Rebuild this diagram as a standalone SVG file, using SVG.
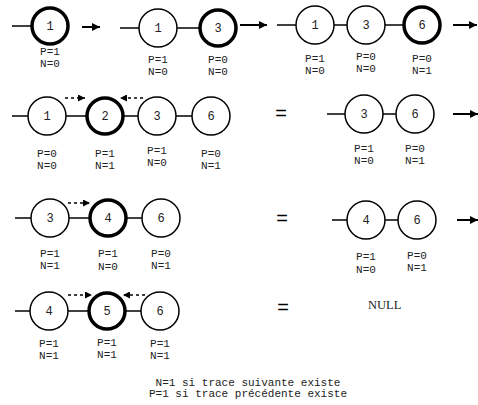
<svg xmlns="http://www.w3.org/2000/svg" width="478" height="405" viewBox="0 0 478 405">
<style>
.n{fill:#fff;stroke:#000;stroke-width:1.5}
.b{fill:#fff;stroke:#000;stroke-width:3.5}
.t{font-family:"Liberation Mono",monospace;font-size:12px;fill:#222;text-anchor:middle}
.l{font-family:"Liberation Mono",monospace;font-size:11px;fill:#222;text-anchor:middle}
.e{font-family:"Liberation Sans",Arial,sans-serif;font-size:20px;fill:#000;text-anchor:middle}
.c{stroke:#000;stroke-width:1.5;fill:none}
.a{stroke:#000;stroke-width:2;fill:none}
.d{stroke:#000;stroke-width:1.5;fill:none;stroke-dasharray:3,3}
</style>
<defs>
<marker id="ah" viewBox="0 0 10 10" refX="10" refY="5" markerWidth="10" markerHeight="8" markerUnits="userSpaceOnUse" orient="auto"><path d="M0,0 L10,5 L0,10 z" fill="#000"/></marker>
<marker id="dh" viewBox="0 0 10 10" refX="10" refY="5" markerWidth="8" markerHeight="7" markerUnits="userSpaceOnUse" orient="auto"><path d="M0,0 L10,5 L0,10 z" fill="#000"/></marker>
</defs>
<g id="connectors">
<line class="c" x1="12" y1="26" x2="31" y2="26"/>
<line class="a" x1="82" y1="27" x2="100" y2="27" marker-end="url(#ah)"/>
<line class="c" x1="120" y1="28" x2="139" y2="28"/>
<line class="c" x1="177" y1="28" x2="199" y2="28"/>
<line class="a" x1="240" y1="25" x2="267" y2="25" marker-end="url(#ah)"/>
<line class="c" x1="277" y1="25" x2="296" y2="25"/>
<line class="c" x1="334" y1="25" x2="347" y2="25"/>
<line class="c" x1="385" y1="25" x2="403" y2="25"/>
<line class="a" x1="453" y1="25" x2="477" y2="25" marker-end="url(#ah)"/>
<line class="c" x1="12" y1="116" x2="28" y2="116"/>
<line class="c" x1="66" y1="116" x2="86" y2="116"/>
<line class="c" x1="124" y1="116" x2="138" y2="116"/>
<line class="c" x1="176" y1="116" x2="192" y2="116"/>
<line class="d" x1="65" y1="98" x2="85" y2="98" marker-end="url(#dh)"/>
<line class="d" x1="143" y1="98" x2="120" y2="98" marker-end="url(#dh)"/>
<line class="c" x1="327" y1="114" x2="345" y2="114"/>
<line class="c" x1="383" y1="114" x2="396" y2="114"/>
<line class="a" x1="453" y1="114" x2="478" y2="114" marker-end="url(#ah)"/>
<line class="c" x1="15" y1="218" x2="31" y2="218"/>
<line class="c" x1="69" y1="218" x2="89" y2="218"/>
<line class="c" x1="127" y1="218" x2="142" y2="218"/>
<line class="d" x1="68" y1="203" x2="90" y2="203" marker-end="url(#dh)"/>
<line class="c" x1="332" y1="220" x2="347" y2="220"/>
<line class="c" x1="385" y1="220" x2="398" y2="220"/>
<line class="a" x1="457" y1="220" x2="478" y2="220" marker-end="url(#ah)"/>
<line class="c" x1="15" y1="311" x2="30" y2="311"/>
<line class="c" x1="68" y1="311" x2="88" y2="311"/>
<line class="c" x1="126" y1="311" x2="141" y2="311"/>
<line class="d" x1="68" y1="295" x2="92" y2="295" marker-end="url(#dh)"/>
<line class="d" x1="145" y1="295" x2="123" y2="295" marker-end="url(#dh)"/>
</g>
<g id="r1n1"><circle class="b" cx="50" cy="26" r="18"/><text class="t" x="50" y="30">1</text><text class="l" x="50" y="55">P=1</text><text class="l" x="50" y="67">N=0</text></g>
<g id="r1g2n1"><circle class="n" cx="158" cy="28" r="19"/><text class="t" x="158" y="32">1</text><text class="l" x="158" y="63">P=1</text><text class="l" x="158" y="75">N=0</text></g>
<g id="r1g2n3"><circle class="b" cx="218" cy="28" r="18"/><text class="t" x="218" y="32">3</text><text class="l" x="218" y="63">P=0</text><text class="l" x="218" y="75">N=0</text></g>
<g id="r1g3n1"><circle class="n" cx="315" cy="25" r="19"/><text class="t" x="315" y="29">1</text><text class="l" x="315" y="62">P=1</text><text class="l" x="315" y="74">N=0</text></g>
<g id="r1g3n3"><circle class="n" cx="366" cy="25" r="19"/><text class="t" x="366" y="29">3</text><text class="l" x="366" y="60">P=0</text><text class="l" x="366" y="72">N=0</text></g>
<g id="r1g3n6"><circle class="b" cx="422" cy="25" r="18"/><text class="t" x="422" y="29">6</text><text class="l" x="422" y="62">P=0</text><text class="l" x="422" y="74">N=1</text></g>
<g id="r2n1"><circle class="n" cx="47" cy="116" r="19"/><text class="t" x="47" y="120">1</text><text class="l" x="47" y="157">P=0</text><text class="l" x="47" y="169">N=0</text></g>
<g id="r2n2"><circle class="b" cx="105" cy="116" r="18"/><text class="t" x="105" y="120">2</text><text class="l" x="105" y="157">P=1</text><text class="l" x="105" y="169">N=1</text></g>
<g id="r2n3"><circle class="n" cx="157" cy="116" r="19"/><text class="t" x="157" y="120">3</text><text class="l" x="157" y="154">P=1</text><text class="l" x="157" y="166">N=0</text></g>
<g id="r2n6"><circle class="n" cx="211" cy="116" r="19"/><text class="t" x="211" y="120">6</text><text class="l" x="211" y="157">P=0</text><text class="l" x="211" y="169">N=1</text></g>
<g id="r2eq"><text class="e" x="281" y="120">=</text></g>
<g id="r2bn3"><circle class="n" cx="364" cy="114" r="19"/><text class="t" x="364" y="118">3</text><text class="l" x="364" y="152">P=1</text><text class="l" x="364" y="164">N=0</text></g>
<g id="r2bn6"><circle class="n" cx="415" cy="114" r="19"/><text class="t" x="415" y="118">6</text><text class="l" x="415" y="152">P=0</text><text class="l" x="415" y="164">N=1</text></g>
<g id="r3n3"><circle class="n" cx="50" cy="218" r="19"/><text class="t" x="50" y="222">3</text><text class="l" x="50" y="257">P=1</text><text class="l" x="50" y="269">N=1</text></g>
<g id="r3n4"><circle class="b" cx="108" cy="218" r="18"/><text class="t" x="108" y="222">4</text><text class="l" x="108" y="257">P=1</text><text class="l" x="108" y="270">N=0</text></g>
<g id="r3n6"><circle class="n" cx="161" cy="218" r="19"/><text class="t" x="161" y="222">6</text><text class="l" x="161" y="257">P=0</text><text class="l" x="161" y="269">N=1</text></g>
<g id="r3eq"><text class="e" x="282" y="225">=</text></g>
<g id="r3bn4"><circle class="n" cx="366" cy="220" r="19"/><text class="t" x="366" y="224">4</text><text class="l" x="366" y="260">P=1</text><text class="l" x="366" y="273">N=0</text></g>
<g id="r3bn6"><circle class="n" cx="417" cy="220" r="19"/><text class="t" x="417" y="224">6</text><text class="l" x="417" y="259">P=0</text><text class="l" x="417" y="271">N=1</text></g>
<g id="r4n4"><circle class="n" cx="49" cy="311" r="19"/><text class="t" x="49" y="315">4</text><text class="l" x="49" y="347">P=1</text><text class="l" x="49" y="359">N=1</text></g>
<g id="r4n5"><circle class="b" cx="107" cy="311" r="18"/><text class="t" x="107" y="315">5</text><text class="l" x="107" y="346">P=1</text><text class="l" x="107" y="358">N=1</text></g>
<g id="r4n6"><circle class="n" cx="160" cy="311" r="19"/><text class="t" x="160" y="315">6</text><text class="l" x="160" y="347">P=1</text><text class="l" x="160" y="359">N=1</text></g>
<g id="r4eq"><text class="e" x="283" y="314">=</text></g>
<g id="null"><text x="368" y="309" font-family="'Liberation Serif',serif" font-size="12.5" fill="#222">NULL</text></g>
<g id="legend"><text class="l" x="248" y="386">N=1 si trace suivante existe</text><text class="l" x="248" y="397">P=1 si trace précédente existe</text></g>
</svg>
